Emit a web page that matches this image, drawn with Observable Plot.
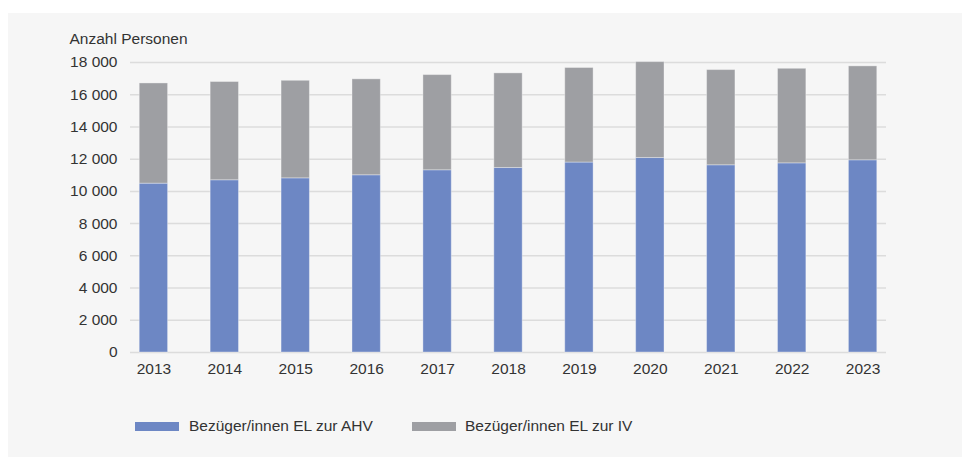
<!DOCTYPE html>
<html>
<head>
<meta charset="utf-8">
<script src="https://cdn.jsdelivr.net/npm/d3@7"></script>
<script src="https://cdn.jsdelivr.net/npm/@observablehq/plot@0.6"></script>
<style>
  html, body { margin: 0; padding: 0; background: #ffffff; }
  body { width: 962px; height: 457px; position: relative; overflow: hidden;
         font-family: "Liberation Sans", Arial, sans-serif; color: #333; }
  #panel { position: absolute; left: 8px; top: 13px; width: 954px; height: 444px; background: #f6f6f6; }
  #chart { position: absolute; left: 0; top: 0; }
  .sw { position: absolute; width: 44px; height: 9px; }
  .lt { position: absolute; font-size: 15.5px; line-height: 18px; color: #333; white-space: nowrap; }
</style>
</head>
<body>
<div id="panel"></div>
<div id="chart"></div>
<div class="sw" id="sw0" style="left:135px; top:422px;"></div>
<div class="lt" id="lt0" style="left:189px; top:417px;"></div>
<div class="sw" id="sw1" style="left:412px; top:422px;"></div>
<div class="lt" id="lt1" style="left:465px; top:417px;"></div>
<script>
const years = ["2013","2014","2015","2016","2017","2018","2019","2020","2021","2022","2023"];
const ahv = [10480, 10690, 10810, 11000, 11310, 11450, 11790, 12070, 11620, 11740, 11930];
const iv  = [6220, 6100, 6055, 5955, 5910, 5875, 5870, 5955, 5910, 5870, 5830];
const seriesNames = ["Bezüger/innen EL zur AHV", "Bezüger/innen EL zur IV"];
const seriesColors = ["#6d87c4", "#9e9fa3"];
const yTicks = [0, 2000, 4000, 6000, 8000, 10000, 12000, 14000, 16000, 18000];
const yTitle = "Anzahl Personen";

const rows = [];
years.forEach((y, i) => {
  rows.push({year: y, series: seriesNames[0], value: ahv[i]});
  rows.push({year: y, series: seriesNames[1], value: iv[i]});
});

const fmtTick = v => String(v).replace(/\B(?=(\d{3})+(?!\d))/g, " ");

const chart = Plot.plot({
  width: 962,
  height: 390,
  marginLeft: 130,
  marginRight: 76,
  marginTop: 62,
  marginBottom: 38,
  style: {background: "transparent", fontFamily: "'Liberation Sans', Arial, sans-serif", fontSize: "15.5px", color: "#333", overflow: "visible"},
  x: {domain: years, paddingInner: 0.6, paddingOuter: 0.13, round: false, label: null},
  y: {domain: [0, 18000], label: null},
  color: {domain: seriesNames, range: seriesColors},
  marks: [
    Plot.ruleY(yTicks, {stroke: "#dcdcdc", strokeWidth: 1.5}),
    Plot.barY(rows, {x: "year", y: "value", fill: "series", order: seriesNames, stroke: "#ffffff", strokeOpacity: 0.35, strokeWidth: 1}),
    Plot.axisY({ticks: yTicks, tickSize: 0, tickPadding: 13, tickFormat: fmtTick, label: null, fill: "#333"}),
    Plot.axisX({tickSize: 0, tickPadding: 10, label: null, fill: "#333"}),
    Plot.text([yTitle], {frameAnchor: "top-left", text: d => d, dx: -61, dy: -30, textAnchor: "start", fill: "#333"})
  ]
});
document.getElementById("chart").appendChild(chart);

seriesNames.forEach((n, i) => {
  document.getElementById("sw" + i).style.background = seriesColors[i];
  document.getElementById("lt" + i).textContent = n;
});
</script>
</body>
</html>
